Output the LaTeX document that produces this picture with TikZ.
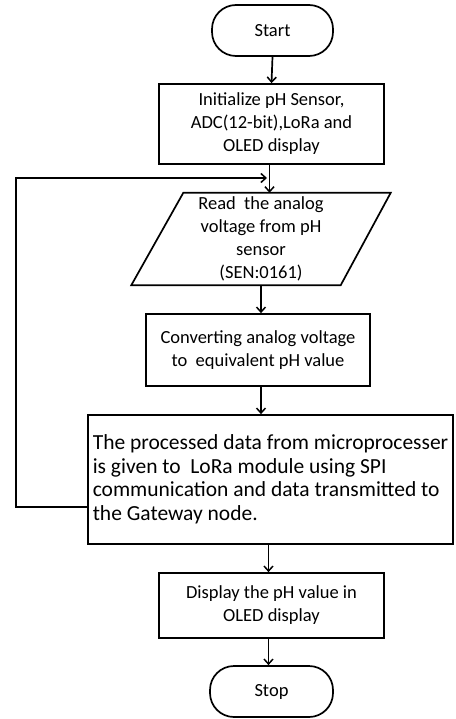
\documentclass[tikz,border=0pt]{standalone}
\usepackage{fontspec}
\setmainfont{Carlito}
\usetikzlibrary{arrows.meta}
\tikzset{
  base/.style={line width=1.7pt, draw=black, inner sep=2pt, align=center},
  term/.style={base, rounded corners=24pt},
  procbox/.style={base, rectangle},
  txtA/.style={font=\fontsize{18.5}{23}\selectfont},
  txtB/.style={font=\fontsize{21.5}{23.5}\selectfont},
  arr/.style={line width=1.7pt, -{Straight Barb[length=5pt,width=9pt,line width=1.5pt]}},
}
\begin{document}
\begin{tikzpicture}[x=1pt,y=-1pt]
\useasboundingbox (0,0) rectangle (455,719);
\node[term, txtA, minimum width=121pt, minimum height=51pt] (start) at (272.5,30.5) {Start};
\node[procbox, txtA, minimum width=225pt, minimum height=80pt] (init) at (271.5,124) {Initialize pH Sensor,\\ADC(12-bit),LoRa and\\OLED display};
\node[txtA, align=center, inner sep=0pt, minimum width=259pt, minimum height=92pt] (read) at (261,239) {Read~ the analog\\voltage from pH\\sensor\\(SEN:0161)};
\draw[line width=1.7pt, line join=miter] ([xshift=52pt]read.north west) -- (read.north east) -- ([xshift=-50pt]read.south east) -- (read.south west) -- cycle;
\node[procbox, txtA, minimum width=224pt, minimum height=72pt] (conv) at (258,350) {Converting analog voltage\\to~ equivalent pH value};
\node[procbox, txtB, minimum width=365pt, minimum height=129pt, align=left, inner sep=1pt] (proc) at (270.5,479.5) {The processed data from microprocesser\\is given to~ LoRa module using SPI\\communication and data transmitted to\\the Gateway node.};
\node[procbox, txtA, minimum width=225pt, minimum height=65pt] (disp) at (271.5,605.5) {Display the pH value in\\OLED display};
\node[term, txtA, minimum width=123pt, minimum height=51pt] (stop) at (271.5,691.5) {Stop};
\coordinate (lc) at (16,178);
\coordinate (lj) at (267,178);
\draw[arr] (start.south) -- (init.north);
\draw[arr] ([xshift=-2pt]init.south) -- ([xshift=-2pt]init.south |- read.north);
\draw[arr] (read.south) -- (read.south |- conv.north);
\draw[arr] ([xshift=3pt]conv.south) -- ([xshift=3pt]conv.south |- proc.north);
\draw[arr] ([xshift=-3pt]disp.north |- proc.south) -- ([xshift=-3pt]disp.north);
\draw[arr] ([xshift=-3pt]disp.south) -- ([xshift=-3pt]disp.south |- stop.north);
\draw[arr] ([yshift=-27.5pt]proc.west) -| (lc) -- (lj);
\end{tikzpicture}
\end{document}
